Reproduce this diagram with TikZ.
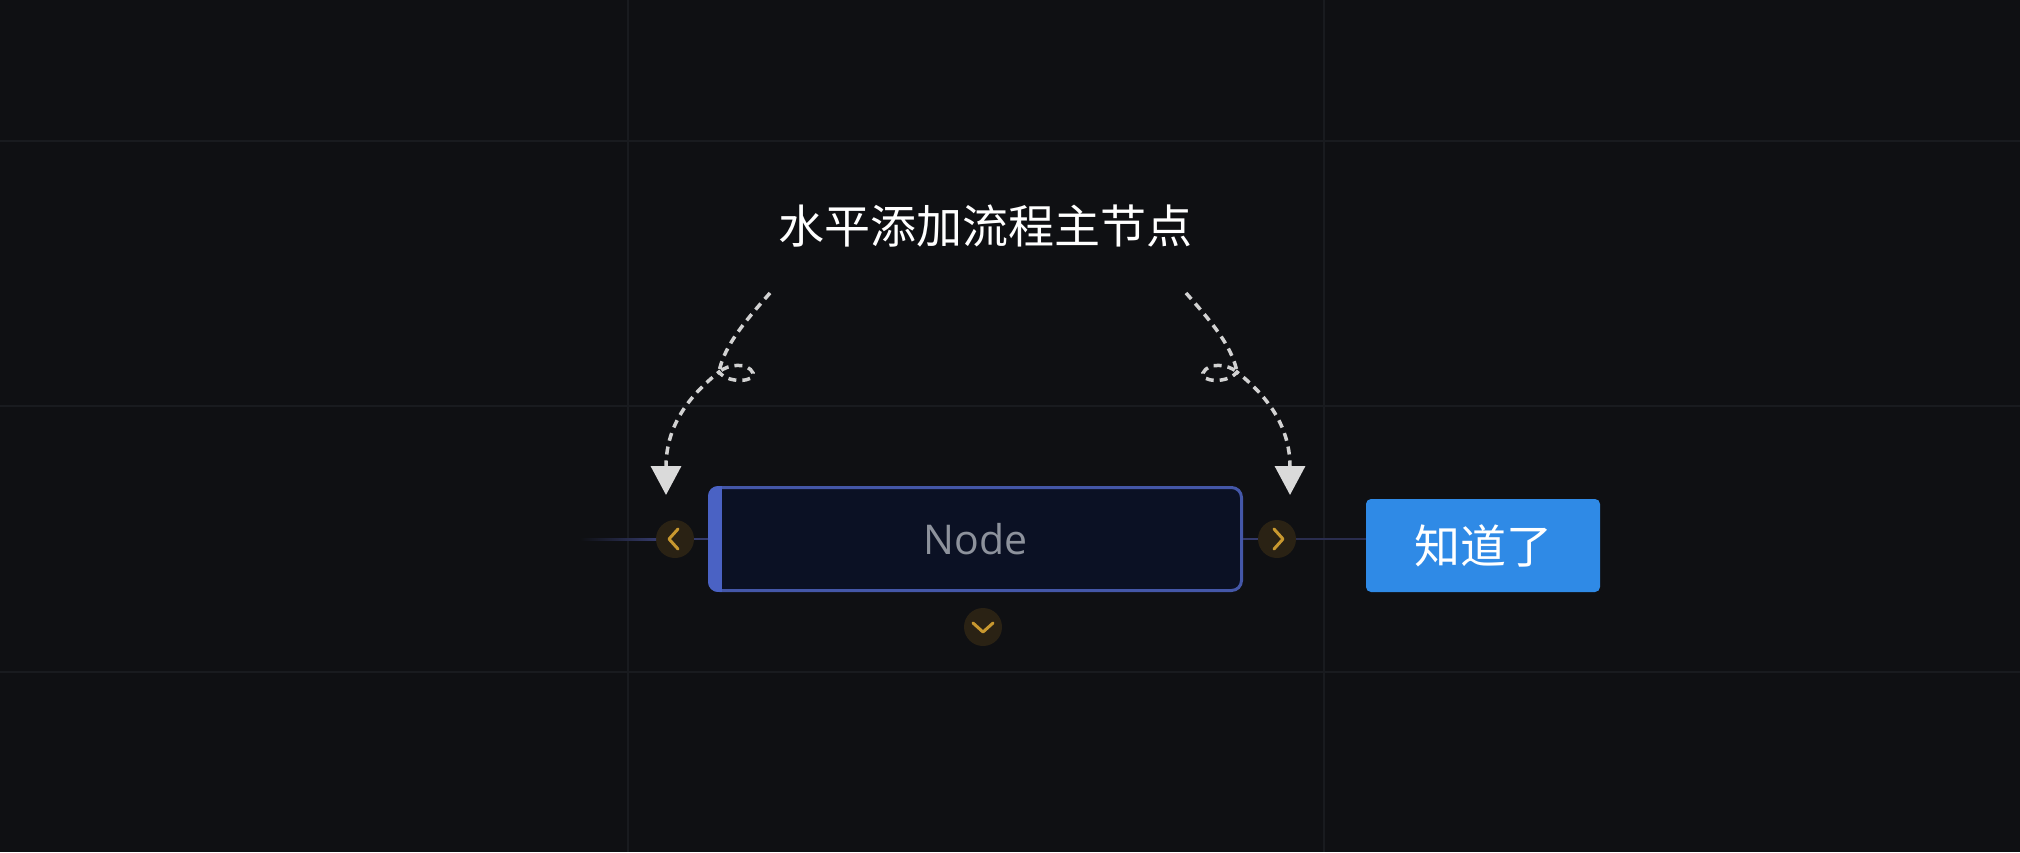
\documentclass[tikz,border=0pt]{standalone}
\usepackage{fontspec}
\usetikzlibrary{arrows.meta}
\newfontfamily\cjk{Noto Sans CJK SC}
\newfontfamily\uifont{Open Sans}
\definecolor{bg}{HTML}{0F1013}
\definecolor{gridc}{HTML}{191B1F}
\definecolor{dashc}{HTML}{D2D2D2}
\definecolor{arrowc}{HTML}{DADADA}
\definecolor{boxfill}{HTML}{0B1124}
\definecolor{boxline}{HTML}{4457A8}
\definecolor{barc}{HTML}{4A62C4}
\definecolor{nodetxt}{HTML}{8D929C}
\definecolor{handlefill}{HTML}{2A2214}
\definecolor{chev}{HTML}{C8982F}
\definecolor{linkc}{HTML}{343A6A}
\definecolor{linkdim}{HTML}{2A2D4E}
\definecolor{btn}{HTML}{2F8AE6}
\tikzset{
  gridline/.style={draw=gridc, line width=2pt},
  dashline/.style={draw=dashc, line width=3.5pt, dash pattern=on 8pt off 6pt,
    -{Triangle[width=30pt,length=29pt,color=arrowc]}},
  nodebox/.style={draw=boxline, fill=boxfill, line width=3pt, rounded corners=10pt,
    minimum width=532pt, minimum height=103pt, inner sep=0pt,
    font=\uifont\fontsize{41pt}{41pt}\selectfont, text=nodetxt},
  handle/.style={circle, fill=handlefill, minimum size=38pt, inner sep=0pt},
  chevline/.style={draw=chev, line width=3pt, line cap=round, line join=round},
  link/.style={draw=linkc, line width=2pt},
  okbtn/.style={fill=btn, rounded corners=5pt, minimum width=234pt, minimum height=93pt,
    inner sep=0pt, text=white, font=\cjk\fontsize{46pt}{46pt}\selectfont},
  title/.style={text=white, font=\cjk\fontsize{46pt}{46pt}\selectfont, inner sep=0pt}
}
\begin{document}
\begin{tikzpicture}[x=1pt,y=-1pt]
\fill[bg] (0,0) rectangle (2020,852);
\useasboundingbox (0,0) rectangle (2020,852);
% grid
\draw[gridline] (628,0) -- (628,852);
\draw[gridline] (1324,0) -- (1324,852);
\draw[gridline] (0,141) -- (2020,141);
\draw[gridline] (0,406) -- (2020,406);
\draw[gridline] (0,672) -- (2020,672);

% title
\node[title] (t) at (985,226) {水平添加流程主节点};

% main node
\node[nodebox] (main) at (975.5,539) {Node};
\begin{scope}
  \clip[rounded corners=10pt] (708,486) rectangle (1243,592);
  \fill[barc] (708,486) rectangle (722,592);
\end{scope}

% handles
\node[handle] (lh) at (675,539) {};
\node[handle] (rh) at (1277,539) {};
\node[handle] (bh) at (983,627) {};
\draw[chevline] (678,529) -- (669,539) -- (678,549);
\draw[chevline] (1274,529) -- (1283,539) -- (1274,549);
\draw[chevline] (973,623) -- (983,632) -- (993,623);

% button
\node[okbtn] (ok) at (1483,545.5) {知道了};

% links
\coordinate (fadeL) at (580,539);
\shade[left color=bg, right color=linkc] (fadeL) ++(0,-1) rectangle (656,540);
\draw[link] (lh.east) -- (main.west);
\draw[link] (main.east) -- (rh.west);
\draw[draw=linkdim, line width=2pt] (rh.east) -- (rh.east -| ok.west);

% dashed arrows
\coordinate (S) at (770,293);
\coordinate (P) at (719,372);
\coordinate (E) at (666,495);
\draw[dashline] (S) .. controls (748,318) and (724,345) .. (P)
  .. controls (728,364) and (748,362) .. (753,373)
  .. controls (756,382) and (728,384) .. (P)
  .. controls (690,395) and (666,425) .. (E);
\coordinate (S2) at (1186,293);
\coordinate (P2) at (1237,372);
\coordinate (E2) at (1290,495);
\draw[dashline] (S2) .. controls (1208,318) and (1232,345) .. (P2)
  .. controls (1228,364) and (1208,362) .. (1203,373)
  .. controls (1200,382) and (1228,384) .. (P2)
  .. controls (1266,395) and (1290,425) .. (E2);
\end{tikzpicture}
\end{document}
